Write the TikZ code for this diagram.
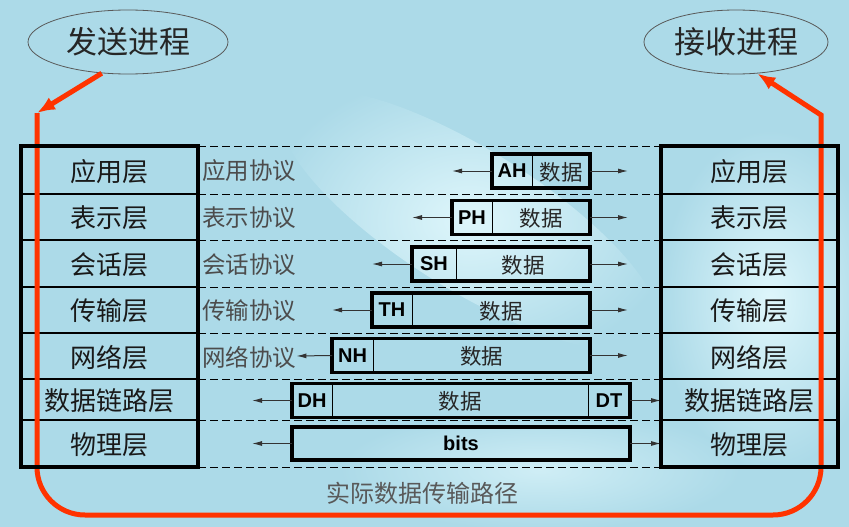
\documentclass[tikz,border=0pt]{standalone}
\usepackage{fontspec}
\setsansfont{Liberation Sans}
\newfontfamily\cjk{Noto Sans CJK SC}
\usetikzlibrary{shapes.geometric,arrows.meta,positioning}
\definecolor{bgblue}{RGB}{172,218,232}
\definecolor{cloud}{RGB}{222,246,251}
\definecolor{pathred}{RGB}{255,51,0}

\begin{document}
\begin{tikzpicture}[x=1pt, y=-1pt, node distance=0pt]
    % Define styles
    \tikzstyle{layerbox} = [rectangle, minimum width=177pt, inner sep=0pt, outer sep=0pt, text depth=0pt, text centered, font=\cjk\fontsize{26}{26}\selectfont, text=black!90]
    \tikzstyle{proto} = [inner sep=0pt, text depth=0pt, font=\cjk\fontsize{23.5}{23.5}\selectfont, text=black!70]
    \tikzstyle{hdr} = [rectangle, draw=black, line width=0.8pt, minimum width=40pt, minimum height=34pt, inner sep=0pt, outer sep=0pt, font=\sffamily\bfseries\fontsize{20}{20}\selectfont]
    \tikzstyle{dat} = [hdr, text depth=0pt, font=\cjk\fontsize{21.5}{21.5}\selectfont, text=black!85]
    \tikzstyle{pkt} = [draw=black, line width=3.5pt]
    \tikzstyle{stack} = [draw=black, line width=3.5pt]
    \tikzstyle{rowline} = [draw=black, line width=1.2pt]
    \tikzstyle{peer} = [draw=black, line width=0.9pt, dash pattern=on 8pt off 4pt]
    \tikzstyle{arrow} = [draw=black!80, line width=1pt, -{Latex[length=10pt,width=5pt]}]
    \tikzstyle{proc} = [ellipse, draw=black!65, line width=0.8pt, inner sep=0pt, minimum height=64pt, font=\cjk\fontsize{31}{31}\selectfont, text=black!85]
    \tikzstyle{redpath} = [draw=pathred, line width=5pt, -{Latex[length=18pt,width=14pt]}]
    \tikzstyle{note} = [font=\cjk\fontsize{24}{24}\selectfont, text=black!65]

    % Background
    \useasboundingbox (0,0) rectangle (849,527);
    \fill[bgblue] (0,0) rectangle (849,527);
    \shade[inner color=cloud, outer color=bgblue, rotate around={-32:(470,220)}] (470,220) ellipse (220pt and 70pt);
    \shade[inner color=cloud, outer color=bgblue] (770,300) ellipse (110pt and 170pt);
    \shade[inner color=cloud!70!bgblue, outer color=bgblue] (540,470) ellipse (200pt and 60pt);

    % Processes
    \node[proc, minimum width=200pt] (send) at (128,42) {发送进程};
    \node[proc, minimum width=184pt] (recv) at (736,42) {接收进程};

    % Layers
    \node[layerbox, minimum height=48pt] (lapp) at (109.5,170) {应用层};
    \node[layerbox, minimum height=46pt, below=of lapp] (lpre) {表示层};
    \node[layerbox, minimum height=47pt, below=of lpre] (lses) {会话层};
    \node[layerbox, minimum height=46pt, below=of lses] (ltra) {传输层};
    \node[layerbox, minimum height=46pt, below=of ltra] (lnet) {网络层};
    \node[layerbox, minimum height=41pt, below=of lnet] (llnk) {数据链路层};
    \node[layerbox, minimum height=47pt, below=of llnk] (lphy) {物理层};

    \node[layerbox, minimum height=48pt, right=463pt of lapp] (rapp) {应用层};
    \node[layerbox, minimum height=46pt, right=463pt of lpre] (rpre) {表示层};
    \node[layerbox, minimum height=47pt, right=463pt of lses] (rses) {会话层};
    \node[layerbox, minimum height=46pt, right=463pt of ltra] (rtra) {传输层};
    \node[layerbox, minimum height=46pt, right=463pt of lnet] (rnet) {网络层};
    \node[layerbox, minimum height=41pt, right=463pt of llnk] (rlnk) {数据链路层};
    \node[layerbox, minimum height=47pt, right=463pt of lphy] (rphy) {物理层};

    % Protocols
    \node[proto, right=4pt of lapp] (papp) {应用协议};
    \node[proto, right=4pt of lpre] (ppre) {表示协议};
    \node[proto, right=4pt of lses] (pses) {会话协议};
    \node[proto, right=4pt of ltra] (ptra) {传输协议};
    \node[proto, right=4pt of lnet] (pnet) {网络协议};

    % Row lines
    \draw[rowline] (lapp.south west) -- (lapp.south east) (lpre.south west) -- (lpre.south east)
        (lses.south west) -- (lses.south east) (ltra.south west) -- (ltra.south east)
        (lnet.south west) -- (lnet.south east) (llnk.south west) -- (llnk.south east);
    \draw[rowline] (rapp.south west) -- (rapp.south east) (rpre.south west) -- (rpre.south east)
        (rses.south west) -- (rses.south east) (rtra.south west) -- (rtra.south east)
        (rnet.south west) -- (rnet.south east) (rlnk.south west) -- (rlnk.south east);
    \draw[peer] (lapp.north east) -- (rapp.north west) (lapp.south east) -- (rapp.south west)
        (lpre.south east) -- (rpre.south west) (lses.south east) -- (rses.south west)
        (ltra.south east) -- (rtra.south west) (lnet.south east) -- (rnet.south west)
        (llnk.south east) -- (rlnk.south west) (lphy.south east) -- (rphy.south west);

    % Packets
    \node[dat, minimum width=58pt, anchor=east] (adat) at (590,171) {数据};
    \node[hdr, left=of adat] (ah) {AH};
    \node[dat, minimum width=98pt, anchor=east] (pdat) at (590,217.5) {数据};
    \node[hdr, left=of pdat] (ph) {PH};
    \node[dat, minimum width=134pt, anchor=east] (sdat) at (590,264) {数据};
    \node[hdr, minimum width=44pt, left=of sdat] (sh) {SH};
    \node[dat, minimum width=178pt, anchor=east] (tdat) at (590,310) {数据};
    \node[hdr, left=of tdat] (th) {TH};
    \node[dat, minimum width=217pt, anchor=east] (ndat) at (590,355.5) {数据};
    \node[hdr, minimum width=41pt, left=of ndat] (nh) {NH};
    \node[hdr, anchor=west] (dh) at (292,400.5) {DH};
    \node[dat, minimum width=256pt, right=of dh] (ddat) {数据};
    \node[hdr, minimum width=42pt, right=of ddat] (dt) {DT};
    \node[hdr, minimum width=338pt, minimum height=33pt] (bits) at (461,443.5) {bits};

    \draw[pkt] (ah.north west) rectangle (adat.south east);
    \draw[pkt] (ph.north west) rectangle (pdat.south east);
    \draw[pkt] (sh.north west) rectangle (sdat.south east);
    \draw[pkt] (th.north west) rectangle (tdat.south east);
    \draw[pkt] (nh.north west) rectangle (ndat.south east);
    \draw[pkt] (dh.north west) rectangle (dt.south east);
    \draw[pkt] (bits.north west) rectangle (bits.south east);

    % Arrows
    \draw[arrow] (ah.west) -- ([xshift=-40pt]ah.west);
    \draw[arrow] (adat.east) -- ([xshift=38pt]adat.east);
    \draw[arrow] (ph.west) -- ([xshift=-40pt]ph.west);
    \draw[arrow] (pdat.east) -- ([xshift=38pt]pdat.east);
    \draw[arrow] (sh.west) -- ([xshift=-40pt]sh.west);
    \draw[arrow] (sdat.east) -- ([xshift=38pt]sdat.east);
    \draw[arrow] (th.west) -- ([xshift=-40pt]th.west);
    \draw[arrow] (tdat.east) -- ([xshift=38pt]tdat.east);
    \draw[arrow] (nh.west) -- (pnet.east);
    \draw[arrow] (ndat.east) -- ([xshift=38pt]ndat.east);
    \draw[arrow] (dh.west) -- ([xshift=-40pt]dh.west);
    \draw[arrow] (dt.east) -- (dt.east -| rlnk.west);
    \draw[arrow] (bits.west) -- ([xshift=-40pt]bits.west);
    \draw[arrow] (bits.east) -- (bits.east -| rphy.west);

    % Data path
    \coordinate (sendtop) at (37,113);
    \coordinate (sendbot) at (37,515);
    \coordinate (recvbot) at (821,515);
    \coordinate (recvtop) at (821,115);
    \draw[redpath] (send.-130) -- (sendtop);
    \draw[redpath] (sendtop) [rounded corners=48pt] -- (sendbot) -- (recvbot) [sharp corners] -- (recvtop) -- (recv.-56);
    \node[note] (route) at (422,493) {实际数据传输路径};

    % Stacks
    \draw[stack] (lapp.north west) rectangle (lphy.south east);
    \draw[stack] (rapp.north west) rectangle (rphy.south east);
\end{tikzpicture}
\end{document}
